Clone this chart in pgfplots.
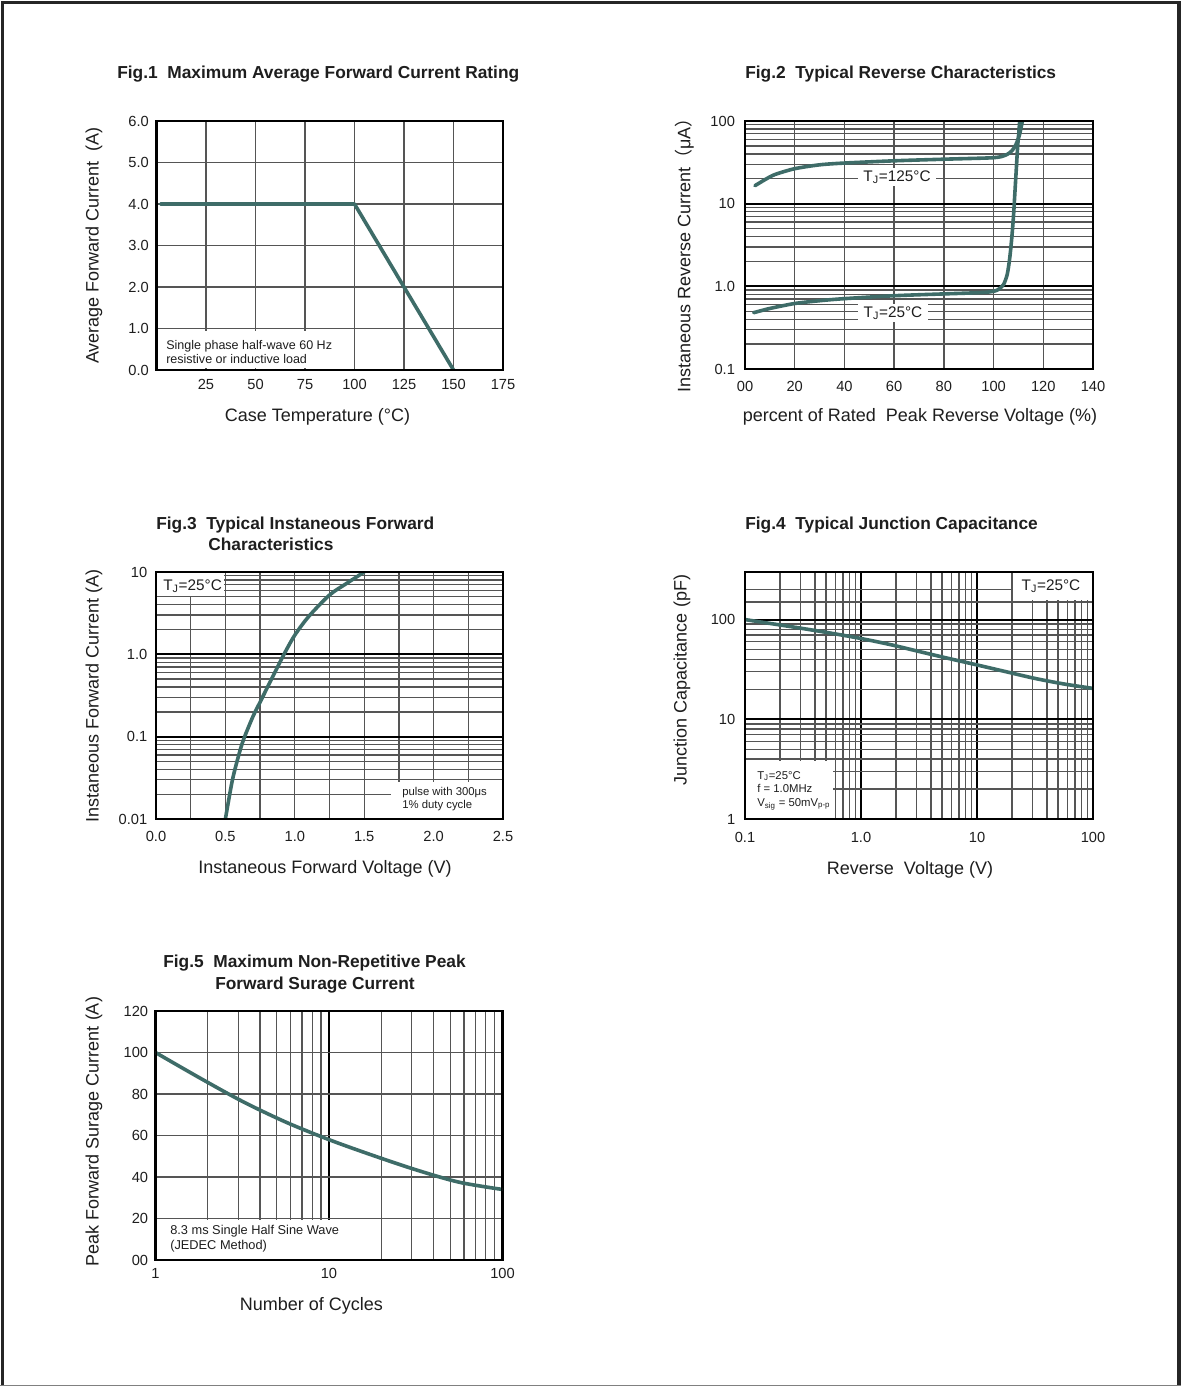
\documentclass[border=0pt]{standalone}
\usepackage{pgfplots}
\pgfplotsset{compat=1.18}
\usepackage{fontspec}
\setmainfont{Liberation Sans}
\newfontfamily\cjk{Noto Sans CJK SC}
\definecolor{curve}{RGB}{62,108,104}
\definecolor{gridc}{RGB}{85,85,85}
\definecolor{txt}{RGB}{30,30,30}
\pgfplotsset{
  ds/.style={
    scale only axis, anchor=south west,
    axis line style={line width=2.2pt, black},
    major tick length=0pt, minor tick length=0pt,
    tick style={draw=none},
    major grid style={line width=1.5pt, black},
    minor grid style={line width=1pt, gridc},
    tick label style={font=\fontsize{11}{13}\selectfont, text=txt},
  },
  cv/.style={line width=2.7pt, draw=curve, line join=round, line cap=round},
}
\newcommand{\frameit}{\draw[line width=2.2pt, black] (rel axis cs:0,0) rectangle (rel axis cs:1,1);}
\begin{document}
\begin{tikzpicture}
\useasboundingbox (0pt,0pt) rectangle (885.75pt,-1040.25pt);
\fill[white] (0pt,0pt) rectangle (885.75pt,-1040.25pt);
\draw[line width=2.4pt, black!85] (1.9pt,-1039pt) -- (1.9pt,-1.6pt) -- (884.2pt,-1.6pt) -- (884.2pt,-1039pt);
\draw[line width=0.9pt, black!50] (0pt,-1038.9pt) -- (885.75pt,-1038.9pt);

% ---------------- Fig 1 ----------------
\begin{axis}[ds, at={(117.375pt,-277.5pt)}, width=259.875pt, height=186.75pt,
  xmin=0, xmax=175, ymin=0, ymax=6,
  xtick={25,50,75,100,125,150,175}, xticklabels={25,50,75,100,125,150,175},
  ytick={0,1,2,3,4,5,6}, yticklabels={0.0,1.0,2.0,3.0,4.0,5.0,6.0},
  xmajorgrids, ymajorgrids, major grid style={line width=1pt, gridc},
  xticklabel style={yshift=-3.75pt}, yticklabel style={xshift=-2.25pt}]
\fill[white] (axis cs:0.6,0.04) rectangle (axis cs:98.8,0.93);
\addplot[cv] coordinates {(2,4) (100,4) (150,0)};
\frameit
\end{axis}

% ---------------- Fig 2 ----------------
\begin{axis}[ds, at={(558.75pt,-276.75pt)}, width=261pt, height=186pt,
  xmin=0, xmax=140, ymode=log, ymin=0.1, ymax=100,
  xtick={0,20,40,60,80,100,120,140}, xticklabels={00,20,40,60,80,100,120,140},
  minor xtick={20,40,60,80,100,120},
  ytick={0.1,1,10,100}, yticklabels={0.1,1.0,10,100},
  minor ytick={0.2,0.3,0.4,0.5,0.6,0.7,0.8,0.9,2,3,4,5,6,7,8,9,20,30,40,50,60,70,80,90},
  xminorgrids, ymajorgrids, yminorgrids,
  xticklabel style={yshift=-6pt}, yticklabel style={xshift=-4pt}]
\addplot[cv, smooth, tension=0.45] coordinates {(4,16.5) (8,19.5) (12,22.5) (20,26.5) (30,29.5) (40,31) (60,33) (80,34.5) (95,35.5) (100,36) (103,37) (105.5,39.5) (107.5,44) (109,52) (110.3,66) (111,82) (111.6,100)};
\addplot[cv, smooth, tension=0.45] coordinates {(3.5,0.48) (10,0.54) (20,0.62) (30,0.67) (40,0.71) (60,0.77) (80,0.81) (95,0.84) (100,0.87) (102,0.92) (104,1.05) (105.5,1.4) (106.5,2.2) (107.3,3.8) (108,7) (108.6,14) (109.2,28) (109.7,50) (110.2,75) (110.5,100)};
\frameit
\end{axis}

% ---------------- Fig 3 ----------------
\begin{axis}[ds, at={(117pt,-614.25pt)}, width=260.25pt, height=185.25pt,
  xmin=0, xmax=2.5, ymode=log, ymin=0.01, ymax=10,
  xtick={0,0.5,1,1.5,2,2.5}, xticklabels={0.0,0.5,1.0,1.5,2.0,2.5},
  minor xtick={0.25,0.5,0.75,1,1.25,1.5,1.75,2,2.25},
  ytick={0.01,0.1,1,10}, yticklabels={0.01,0.1,1.0,10},
  minor ytick={0.02,0.03,0.04,0.05,0.06,0.07,0.08,0.09,0.2,0.3,0.4,0.5,0.6,0.7,0.8,0.9,2,3,4,5,6,7,8,9},
  xminorgrids, ymajorgrids, yminorgrids,
  xticklabel style={yshift=-6pt}, yticklabel style={xshift=-3pt}]
\fill[white] (axis cs:0.01,5.15) rectangle (axis cs:0.49,9.8);
\fill[white] (axis cs:1.69,0.0103) rectangle (axis cs:2.49,0.028);
\addplot[cv, smooth] coordinates {(0.5,0.01) (0.55,0.0295) (0.6,0.063) (0.634,0.0955) (0.7,0.178) (0.75,0.263) (0.85,0.575) (0.922,1.0) (1.0,1.71) (1.1,2.88) (1.25,5.25) (1.375,7.3) (1.5,10)};
\frameit
\end{axis}

% ---------------- Fig 4 ----------------
\begin{axis}[ds, at={(558.75pt,-614.25pt)}, width=261pt, height=185.25pt,
  xmode=log, ymode=log, xmin=0.1, xmax=100, ymin=1, ymax=300,
  xtick={0.1,1,10,100}, xticklabels={0.1,1.0,10,100},
  ytick={1,10,100}, yticklabels={1,10,100},
  minor xtick={0.2,0.3,0.4,0.5,0.6,0.7,0.8,0.9,2,3,4,5,6,7,8,9,20,30,40,50,60,70,80,90},
  minor ytick={2,3,4,5,6,7,8,9,20,30,40,50,60,70,80,90,150,200},
  grid=both,
  xticklabel style={yshift=-6.75pt}, yticklabel style={xshift=-3.8pt}]
\fill[white] (axis cs:0.102,1.02) rectangle (axis cs:0.57,3.8);
\fill[white] (axis cs:20.6,158) rectangle (axis cs:98,296);
\addplot[cv, smooth] coordinates {(0.1,100) (0.178,90.2) (0.316,81.3) (0.562,72.8) (1,64.6) (1.78,56.2) (3.16,47.9) (5.62,40.9) (10,35.1) (17.8,30) (31.6,25.7) (56.2,22.6) (100,20.4)};
\frameit
\end{axis}

% ---------------- Fig 5 ----------------
\begin{axis}[ds, at={(116.625pt,-945pt)}, width=260.25pt, height=186.75pt,
  xmode=log, xmin=1, xmax=100, ymin=0, ymax=120,
  xtick={1,10,100}, xticklabels={1,10,100},
  minor xtick={2,3,4,5,6,7,8,9,20,30,40,50,60,70,80,90},
  ytick={0,20,40,60,80,100,120}, yticklabels={00,20,40,60,80,100,120},
  minor ytick={20,40,60,80,100},
  xmajorgrids, xminorgrids, yminorgrids,
  xticklabel style={yshift=-3pt}, yticklabel style={xshift=-2pt}]
\fill[white] (axis cs:1.01,0.4) rectangle (axis cs:19.6,19.4);
\addplot[cv, smooth] coordinates {(1,100) (1.778,88) (3.162,76.5) (5.623,66.5) (10,58) (17.78,50.5) (31.62,43.5) (56.23,37.5) (100,34)};
\frameit
\end{axis}

% ---------------- texts ----------------
\begin{scope}[x=0.75pt, y=-0.75pt, text=txt]
\def\tfont{\fontsize{13}{15}\selectfont\bfseries}
\def\lfont{\fontsize{13.5}{16}\selectfont}
\node[anchor=base west, font=\tfont, inner sep=0] at (117,79) {Fig.1\ \ Maximum Average Forward Current Rating};
\node[anchor=base west, font=\tfont, inner sep=0] at (745,79) {Fig.2\ \ Typical Reverse Characteristics};
\node[anchor=base west, font=\tfont, inner sep=0] at (156,529) {Fig.3\ \ Typical Instaneous Forward};
\node[anchor=base west, font=\tfont, inner sep=0] at (208,550) {Characteristics};
\node[anchor=base west, font=\tfont, inner sep=0] at (745,529) {Fig.4\ \ Typical Junction Capacitance};
\node[anchor=base west, font=\tfont, inner sep=0] at (163,967) {Fig.5\ \ Maximum Non-Repetitive Peak};
\node[anchor=base west, font=\tfont, inner sep=0] at (215,989) {Forward Surage Current};

\node[font=\lfont] at (317.5,417) {Case Temperature (°C)};
\node[font=\lfont, rotate=90] at (94,245.5) {Average Forward Current\ \ (A)};
\node[font=\lfont] at (920,416.5) {percent of Rated\ \ Peak Reverse Voltage (\%)};
\node[font=\lfont, rotate=90] at (684.5,251) {Instaneous Reverse Current{\cjk （}μA{\cjk ）}};
\node[font=\lfont] at (325,869) {Instaneous Forward Voltage (V)};
\node[font=\lfont, rotate=90] at (94,696) {Instaneous Forward Current (A)};
\node[font=\lfont] at (910,869.5) {Reverse\ \ Voltage (V)};
\node[font=\lfont, rotate=90] at (682,680) {Junction Capacitance (pF)};
\node[font=\lfont] at (311.5,1305.5) {Number of Cycles};
\node[font=\lfont, rotate=90] at (94,1131.5) {Peak Forward Surage Current (A)};

\node[anchor=west, align=left, font=\fontsize{9.4}{10.5}\selectfont, inner sep=0] at (166,352) {Single phase half-wave 60 Hz\\resistive or inductive load};
\node[font=\fontsize{11.5}{13}\selectfont, fill=white, inner xsep=4pt, inner ysep=1.5pt] at (897,177) {T\textsubscript{J}=125°C};
\node[font=\fontsize{11.5}{13}\selectfont, fill=white, inner xsep=4pt, inner ysep=1.5pt] at (893,313) {T\textsubscript{J}=25°C};
\node[anchor=west, font=\fontsize{11.5}{13}\selectfont, inner sep=0] at (163,586) {T\textsubscript{J}=25°C};
\node[anchor=west, align=left, font=\fontsize{8.5}{9.8}\selectfont, inner sep=0] at (402,799.5) {pulse with 300μs\\1\% duty cycle};
\node[font=\fontsize{11.5}{13}\selectfont] at (1051,586) {T\textsubscript{J}=25°C};
\node[anchor=west, align=left, font=\fontsize{8.5}{10.2}\selectfont, inner sep=0] at (757,790.5) {T\textsubscript{J}=25°C\\f = 1.0MHz\\V\textsubscript{sig} = 50mV\textsubscript{p-p}};
\node[anchor=west, align=left, font=\fontsize{9.6}{11}\selectfont, inner sep=0] at (170,1238.5) {8.3 ms Single Half Sine Wave\\(JEDEC Method)};
\end{scope}
\end{tikzpicture}
\end{document}
